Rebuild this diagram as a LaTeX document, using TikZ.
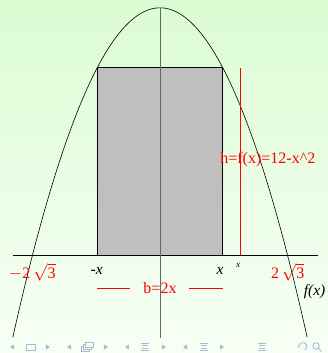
\documentclass[tikz,border=0pt]{standalone}
\usepackage{fontspec}
\setmainfont{Liberation Serif}
\usetikzlibrary{positioning, calc, arrows.meta}
\definecolor{bgtop}{RGB}{219,252,211}
\definecolor{bgbot}{RGB}{247,255,245}
\definecolor{navblue}{RGB}{170,184,216}
\tikzset{
  redlbl/.style={text=red, inner sep=1pt, font=\fontsize{16}{18}\selectfont},
  blklbl/.style={text=black, inner sep=1pt, font=\fontsize{15.5}{18}\itshape},
  navtri/.style={fill=navblue, draw=none},
  navline/.style={draw=navblue, line width=0.9pt}
}
\begin{document}
\begin{tikzpicture}[x=36.8pt, y=20.6pt]
        % background
            \shade[top color=bgtop, bottom color=bgbot] (-160pt,-98pt) rectangle (168pt,255pt);
            \useasboundingbox (-160pt,-98pt) rectangle (168pt,255pt);
        % rectangle under the curve
            \filldraw[fill=black!25, draw=black, line width=0.7pt] (-1.7,0) rectangle (1.7,9.11);
        % axes
            \coordinate (xl) at (-4,0);
            \coordinate (xr) at (4.29,0);
            \coordinate (yb) at (0,-4.05);
            \coordinate (yt) at (0,12);
            \draw[line width=0.7pt] (xl) -- (xr);
            \draw[black!60, line width=0.9pt] (yb) -- (yt);
        % parabola
            \draw[line width=0.6pt, domain=-4:4, samples=120] plot (\x, {12-\x*\x});
        % height
            \coordinate (hb) at (2.17,0);
            \coordinate (ht) at (2.17,9.08);
            \draw[red, line width=0.6pt] (hb) -- (ht);
            \node[redlbl] (hlbl) at (2.93,4.61) {h=f(x)=12-x\^{}2};
        % labels on the axis
            \node[redlbl] (rootl) at (-3.47,-0.85) {$-\mbox{2}\,\sqrt{\mbox{3}}$};
            \node[redlbl] (rootr) at (3.47,-0.85) {$\mbox{2}\,\sqrt{\mbox{3}}$};
            \node[blklbl] (mx) at (-1.72,-0.78) {-x};
            \node[blklbl] (px) at (1.63,-0.78) {x};
            \node[text=black, inner sep=0pt, font=\fontsize{9}{10}\itshape] (sx) at (2.12,-0.5) {x};
            \node[blklbl] (fx) at (4.2,-1.8) {f(x)};
        % base
            \node[redlbl] (blbl) at (0,-1.6) {b=2x};
            \coordinate (bl1) at (-1.7,-1.6);
            \coordinate (bl2) at (-0.82,-1.6);
            \coordinate (br1) at (0.79,-1.6);
            \coordinate (br2) at (1.7,-1.6);
            \draw[red, line width=0.6pt] (bl1) -- (bl2);
            \draw[red, line width=0.6pt] (br1) -- (br2);
        % navigation symbols
            \begin{scope}[shift={(-160pt,-92pt)}, x=1pt, y=1pt]
                \foreach \p in {12,69,127,185} \fill[navtri] (\p-2,0) -- (\p+2,2.5) -- (\p+2,-2.5) -- cycle;
                \foreach \p in {48,106,164,222} \fill[navtri] (\p+2,0) -- (\p-2,2.5) -- (\p-2,-2.5) -- cycle;
                \draw[navline] (26,-3) rectangle (35,3);
                \draw[navline, fill=bgbot] (81,-4) rectangle (89,1);
                \draw[navline, fill=bgbot] (83,-2) rectangle (91,3);
                \draw[navline, fill=bgbot] (85,0) rectangle (93,5);
                \foreach \p in {145,204,262} {
                    \draw[navline] (\p-4,3.5) -- (\p+4,3.5);
                    \draw[navline] (\p-3,1.2) -- (\p+3,1.2);
                    \draw[navline] (\p-3,-1.2) -- (\p+3,-1.2);
                    \draw[navline] (\p-4,-3.5) -- (\p+4,-3.5);
                }
                \draw[navline, -{Stealth[length=2.5pt]}] (305,-3) arc (-60:200:4);
                \draw[navline] (316,1) circle (3.2);
                \draw[navline] (318.2,-1.2) -- (321.5,-4.5);
            \end{scope}
\end{tikzpicture}
\end{document}
